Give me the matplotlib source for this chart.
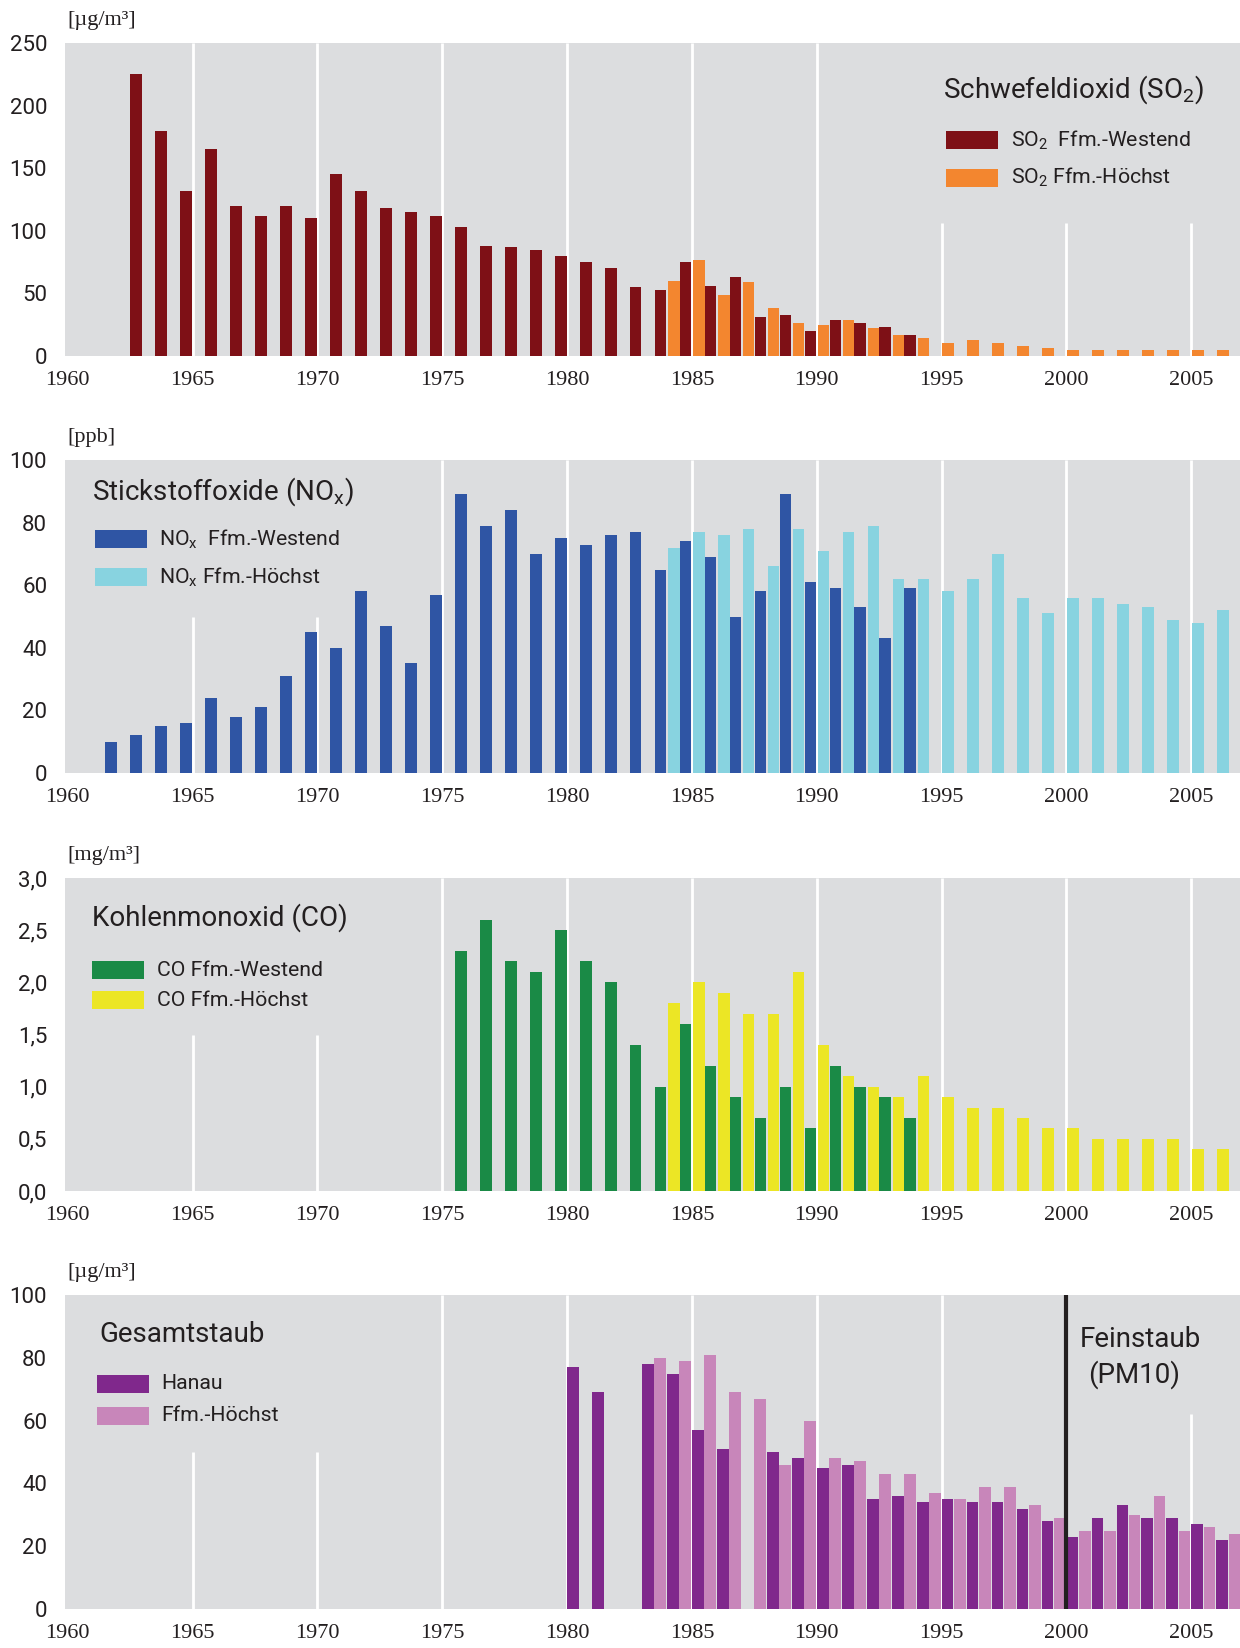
import matplotlib
matplotlib.use('Agg')
import matplotlib.pyplot as plt
import numpy as np
from matplotlib.patches import Rectangle

plt.rcParams['mathtext.default'] = 'regular'

SANS = ['Roboto', 'DejaVu Sans']
SERIF = ['Liberation Serif', 'DejaVu Serif']
TEXT = '#231f20'
BG = '#dcdddf'

# --- Schwefeldioxid ---
so2_west_jahre = list(range(1962, 1994))
so2_west = [225, 180, 132, 165, 120, 112, 120, 110, 145, 132, 118, 115, 112, 103, 88, 87,
            85, 80, 75, 70, 55, 53, 75, 56, 63, 31, 33, 20, 29, 26, 23, 17]
so2_hoechst_jahre = list(range(1984, 2007))
so2_hoechst = [60, 77, 49, 59, 38, 26, 25, 29, 22, 17, 14, 10, 13, 10, 8, 6, 5, 5, 5, 5, 5, 5, 5]

# --- Stickstoffoxide ---
nox_west_jahre = list(range(1961, 1994))
nox_west = [10, 12, 15, 16, 24, 18, 21, 31, 45, 40, 58, 47, 35, 57, 89, 79, 84, 70, 75, 73,
            76, 77, 65, 74, 69, 50, 58, 89, 61, 59, 53, 43, 59]
nox_hoechst_jahre = list(range(1984, 2007))
nox_hoechst = [72, 77, 76, 78, 66, 78, 71, 77, 79, 62, 62, 58, 62, 70, 56, 51, 56, 56, 54, 53,
               49, 48, 52]

# --- Kohlenmonoxid ---
co_west_jahre = list(range(1975, 1994))
co_west = [2.3, 2.6, 2.2, 2.1, 2.5, 2.2, 2.0, 1.4, 1.0, 1.6, 1.2, 0.9, 0.7, 1.0, 0.6, 1.2,
           1.0, 0.9, 0.7]
co_hoechst_jahre = list(range(1984, 2007))
co_hoechst = [1.8, 2.0, 1.9, 1.7, 1.7, 2.1, 1.4, 1.1, 1.0, 0.9, 1.1, 0.9, 0.8, 0.8, 0.7, 0.6,
              0.6, 0.5, 0.5, 0.5, 0.5, 0.4, 0.4]

# --- Staub ---
staub_hanau_jahre = [1980, 1981] + list(range(1983, 1987)) + list(range(1988, 2007))
staub_hanau = [77, 69, 78, 75, 57, 51, 50, 48, 45, 46, 35, 36, 34, 35, 34, 34, 32, 28, 23,
               29, 33, 29, 29, 27, 22]
staub_hoechst_jahre = list(range(1983, 2007))
staub_hoechst = [80, 79, 81, 69, 67, 46, 60, 48, 47, 43, 43, 37, 35, 39, 39, 33, 29, 25, 25,
                 30, 36, 25, 26, 24]

jahr_ticks = list(range(1960, 2006, 5))

fig = plt.figure(figsize=(12.4, 16.48), dpi=100)
links = 65.2 / 1240
breite = 1 - links
unten = [1 - 356 / 1648, 1 - 773 / 1648, 1 - 1191 / 1648, 1 - 1609 / 1648]
hoehe = 313 / 1648


def zeichne(ax, serien, ymax, yticks, ytexte, einheit, titel, titel_pos, leg_x, leg_y,
            teil_gitter, ohne_gitter=()):
    ax.set_facecolor(BG)
    for s in ax.spines.values():
        s.set_visible(False)
    ax.set_xlim(1959.9, 2006.95)
    ax.set_ylim(0, ymax)
    for j in range(1965, 2006, 5):
        if j in ohne_gitter:
            continue
        ax.vlines(j, 0, teil_gitter.get(j, ymax), color='white', lw=2, zorder=1)
    for jahre, werte, farbe, versatz, _ in serien:
        ax.bar(np.array(jahre) + versatz, werte, width=0.47, color=farbe, linewidth=0, zorder=2)
    ax.set_xticks(jahr_ticks)
    ax.set_xticklabels([str(j) for j in jahr_ticks], family=SERIF, fontsize=16, color=TEXT)
    ax.set_yticks(yticks)
    ax.set_yticklabels(ytexte, family=SANS, fontsize=16, color=TEXT)
    ax.tick_params(axis='both', length=0)
    ax.tick_params(axis='x', pad=11)
    ax.tick_params(axis='y', pad=13)
    ax.text(0.002, 1.073, einheit, transform=ax.transAxes, family=SERIF, fontsize=16,
            color=TEXT, va='center', ha='left')
    ax.text(titel_pos[0], titel_pos[1], titel, transform=ax.transAxes, family=SANS,
            fontsize=20, color=TEXT, va='center', ha='left')
    # Legende von Hand: dunkle Reihe oben
    for (jahre, werte, farbe, versatz, label), y in zip(serien[::-1], leg_y):
        ax.add_patch(Rectangle((leg_x, y - 0.0288), 0.0443, 0.0575, transform=ax.transAxes,
                               facecolor=farbe, linewidth=0, zorder=3))
        ax.text(leg_x + 0.055, y, label, transform=ax.transAxes, family=SANS, fontsize=15.3,
                color=TEXT, va='center', ha='left', zorder=3)


ax1 = fig.add_axes([links, unten[0], breite, hoehe])
zeichne(ax1,
        [(so2_hoechst_jahre, so2_hoechst, '#f3862f', 0.27, 'SO$_2$ Ffm.-Höchst'),
         (so2_west_jahre, so2_west, '#7e1016', 0.745, 'SO$_2$  Ffm.-Westend')],
        250, [0, 50, 100, 150, 200, 250], ['0', '50', '100', '150', '200', '250'],
        '[µg/m³]', 'Schwefeldioxid (SO$_2$)', (0.747, 0.85), 0.750, [0.69, 0.57],
        {1995: 106, 2000: 106, 2005: 106})

ax2 = fig.add_axes([links, unten[1], breite, hoehe])
zeichne(ax2,
        [(nox_hoechst_jahre, nox_hoechst, '#88d3e0', 0.27, 'NO$_x$ Ffm.-Höchst'),
         (nox_west_jahre, nox_west, '#2f55a4', 0.745, 'NO$_x$  Ffm.-Westend')],
        100, [0, 20, 40, 60, 80, 100], ['0', '20', '40', '60', '80', '100'],
        '[ppb]', 'Stickstoffoxide (NO$_x$)', (0.023, 0.898), 0.025, [0.748, 0.626],
        {1965: 50, 1970: 50})

ax3 = fig.add_axes([links, unten[2], breite, hoehe])
zeichne(ax3,
        [(co_hoechst_jahre, co_hoechst, '#ece625', 0.27, 'CO Ffm.-Höchst'),
         (co_west_jahre, co_west, '#1a8a46', 0.745, 'CO Ffm.-Westend')],
        3.0, [0, 0.5, 1.0, 1.5, 2.0, 2.5, 3.0], ['0,0', '0,5', '1,0', '1,5', '2,0', '2,5', '3,0'],
        '[mg/m³]', 'Kohlenmonoxid (CO)', (0.023, 0.875), 0.023, [0.706, 0.610],
        {1965: 1.5, 1970: 1.5})

ax4 = fig.add_axes([links, unten[3], breite, 314 / 1648])
zeichne(ax4,
        [(staub_hoechst_jahre, staub_hoechst, '#c886ba', 0.73, 'Ffm.-Höchst'),
         (staub_hanau_jahre, staub_hanau, '#80288c', 0.24, 'Hanau')],
        100, [0, 20, 40, 60, 80, 100], ['0', '20', '40', '60', '80', '100'],
        '[µg/m³]', 'Gesamtstaub', (0.029, 0.873), 0.027, [0.717, 0.615],
        {1965: 50, 1970: 50, 2005: 62}, ohne_gitter=(2000,))
ax4.axvline(2000, color=TEXT, lw=3, zorder=4)
ax4.text(0.915, 0.857, 'Feinstaub', transform=ax4.transAxes, family=SANS, fontsize=20,
         color=TEXT, ha='center', va='center')
ax4.text(0.910, 0.745, '(PM10)', transform=ax4.transAxes, family=SANS, fontsize=20,
         color=TEXT, ha='center', va='center')

fig.savefig('out.png', dpi=100)
